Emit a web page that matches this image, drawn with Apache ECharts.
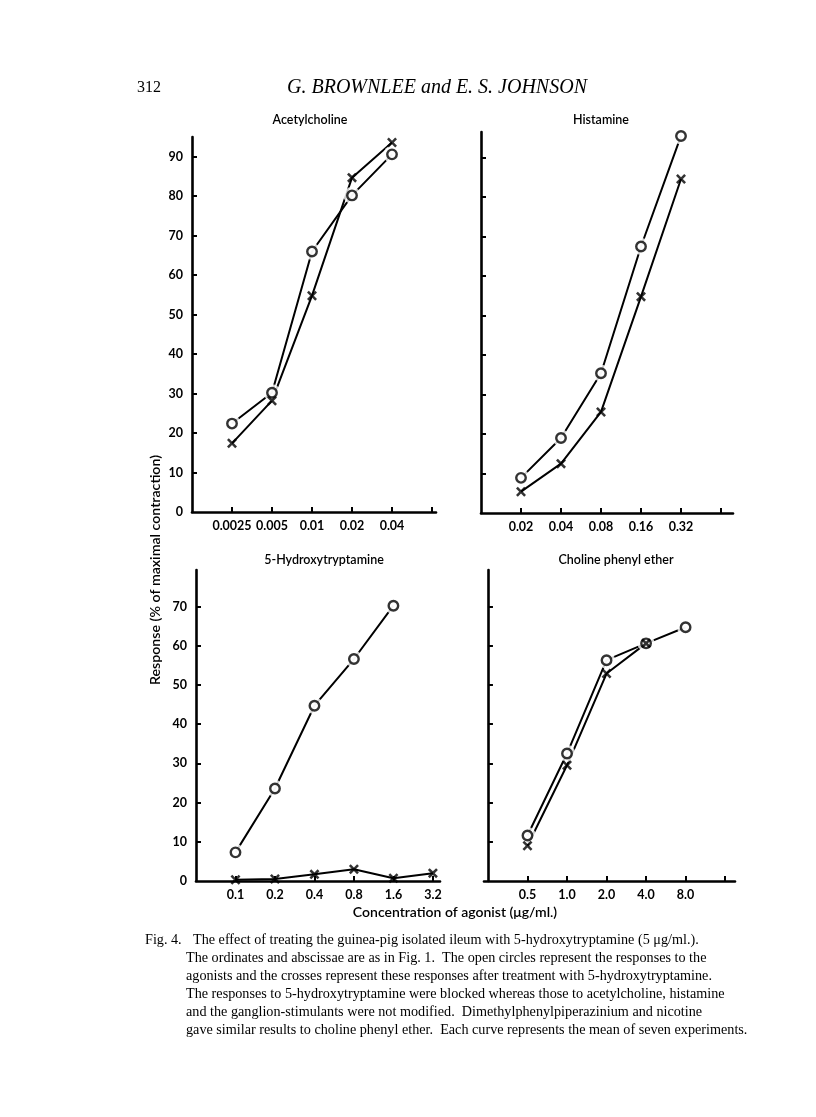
<!DOCTYPE html>
<html>
<head>
<meta charset="utf-8">
<script src="https://cdn.jsdelivr.net/npm/echarts@6/dist/echarts.min.js"></script>
<style>
html,body{margin:0;padding:0;background:#fff;}
#chart{width:816px;height:1117px;}
</style>
</head>
<body>
<div id="chart"></div>
<script>
// ---- data ----
const acLabels = ['0.0025', '0.005', '0.01', '0.02', '0.04'];
const acCircle = [22.4, 30.2, 66, 80.2, 90.6];
const acCross = [17.4, 28.2, 54.8, 84.7, 93.6];

const hiLabels = ['0.02', '0.04', '0.08', '0.16', '0.32'];
const hiCircle = [8.9, 19, 35.4, 67.5, 95.5];
const hiCross = [5.4, 12.5, 25.6, 54.8, 84.6];

const htLabels = ['0.1', '0.2', '0.4', '0.8', '1.6', '3.2'];
const htCircle = [7.3, 23.6, 44.7, 56.6, 70.2];
const htCross = [0.3, 0.5, 1.7, 3.0, 0.7, 2.0];

const cpLabels = ['0.5', '1.0', '2.0', '4.0', '8.0'];
const cpCircle = [11.6, 32.5, 56.3, 60.6, 64.7];
const cpCross = [9.0, 29.5, 52.9, 60.6];

const topYTicks = [0, 10, 20, 30, 40, 50, 60, 70, 80, 90];
const botYTicks = [0, 10, 20, 30, 40, 50, 60, 70];
const xTickPos = [1, 2, 3, 4, 5, 6];

const panelTitles = ['Acetylcholine', 'Histamine', '5-Hydroxytryptamine', 'Choline phenyl ether'];
const captionLines = [
  'The effect of treating the guinea-pig isolated ileum with 5-hydroxytryptamine (5 μg/ml.).',
  'The ordinates and abscissae are as in Fig. 1.  The open circles represent the responses to the',
  'agonists and the crosses represent these responses after treatment with 5-hydroxytryptamine.',
  'The responses to 5-hydroxytryptamine were blocked whereas those to acetylcholine, histamine',
  'and the ganglion-stimulants were not modified.  Dimethylphenylpiperazinium and nicotine',
  'gave similar results to choline phenyl ether.  Each curve represents the mean of seven experiments.'
];

// ---- helpers ----
const sansFont = 'Lato';
const crossPath = 'path://M0,1.8L1.8,0L5,3.2L8.2,0L10,1.8L6.8,5L10,8.2L8.2,10L5,6.8L1.8,10L0,8.2L3.2,5Z';
const toXY = arr => arr.map((v, i) => [i + 1, v]);

const panels = [
  {grid: {left: 192, top: 137, width: 244, height: 375}, xmin: 0, xmax: 6.1, ymax: 95, labels: acLabels, yLabels: topYTicks, showY: true, yTicks: [10,20,30,40,50,60,70,80,90], circle: acCircle, cross: acCross},
  {grid: {left: 481, top: 132, width: 252, height: 381}, xmin: 0, xmax: 6.3, ymax: 96.5, labels: hiLabels, yLabels: topYTicks, showY: false, yTicks: [10,20,30,40,50,60,70,80,90], circle: hiCircle, cross: hiCross},
  {grid: {left: 196, top: 570, width: 244, height: 311}, xmin: 0, xmax: 6.18, ymax: 79.3, labels: htLabels, yLabels: botYTicks, showY: true, yTicks: [10,20,30,40,50,60,70], circle: htCircle, cross: htCross},
  {grid: {left: 484, top: 570, width: 251, height: 311}, xmin: -0.1, xmax: 6.25, ymax: 79.3, labels: cpLabels, yLabels: botYTicks, showY: false, yTicks: [10,20,30,40,50,60,70], circle: cpCircle, cross: cpCross}
];

const grids = [], xAxes = [], yAxes = [], series = [];
panels.forEach((p, i) => {
  grids.push(p.grid);
  xAxes.push({
    type: 'value', gridIndex: i, min: p.xmin, max: p.xmax,
    splitLine: {show: false},
    axisLine: {show: true, lineStyle: {color: '#000', width: 2.6}},
    axisTick: {show: true, inside: true, length: 5, customValues: xTickPos, lineStyle: {color: '#000', width: 2}},
    axisLabel: {show: true, customValues: p.labels.map((_, k) => k + 1), formatter: v => p.labels[Math.round(v) - 1] || '',
      color: '#000', fontFamily: sansFont, fontWeight: 'bold', fontSize: 12.5, margin: 7}
  });
  yAxes.push({
    type: 'value', gridIndex: i, min: 0, max: p.ymax,
    splitLine: {show: false},
    axisLine: {show: true, lineStyle: {color: '#000', width: 2.6}},
    axisTick: {show: true, inside: true, length: 5, customValues: p.yTicks, lineStyle: {color: '#000', width: 2}},
    axisLabel: {show: p.showY, customValues: p.yLabels, color: '#000', fontFamily: sansFont, fontWeight: 'bold', fontSize: 12.5, margin: 9}
  });
  const c = toXY(p.circle), x = toXY(p.cross);
  [c, x].forEach(d => series.push({
    type: 'line', xAxisIndex: i, yAxisIndex: i, data: d, showSymbol: false, silent: true,
    lineStyle: {color: '#000', width: 2}, z: 2, animation: false
  }));
  series.push({type: 'scatter', xAxisIndex: i, yAxisIndex: i, data: c, symbol: 'circle', symbolSize: 17,
    itemStyle: {color: '#fff'}, z: 3, silent: true, animation: false});
  series.push({type: 'scatter', xAxisIndex: i, yAxisIndex: i, data: c, symbol: 'circle', symbolSize: 9.5,
    itemStyle: {color: '#fff', borderColor: '#000', borderWidth: 2.4}, z: 4, silent: true, animation: false});
  series.push({type: 'scatter', xAxisIndex: i, yAxisIndex: i, data: x, symbol: crossPath, symbolSize: 10,
    itemStyle: {color: '#000'}, z: 5, silent: true, animation: false});
});

const titlePos = [[310, 120], [601, 120], [324, 560], [616, 560]];
const graphics = [];
panelTitles.forEach((t, i) => graphics.push({type: 'text', x: titlePos[i][0], y: titlePos[i][1],
  style: {text: t, fill: '#000', font: '600 12.5px ' + sansFont, textAlign: 'center', textVerticalAlign: 'middle'}}));
graphics.push({type: 'text', x: 137, y: 88, style: {text: '312', fill: '#000', font: '16px "Liberation Serif"', textAlign: 'left', textVerticalAlign: 'middle'}});
graphics.push({type: 'text', x: 437, y: 88, style: {text: 'G. BROWNLEE and E. S. JOHNSON', fill: '#000', font: 'italic 20px "Liberation Serif"', textAlign: 'center', textVerticalAlign: 'middle'}});
graphics.push({type: 'text', x: 155, y: 570, rotation: Math.PI / 2,
  style: {text: 'Response (% of maximal contraction)', fill: '#000', font: '600 14.2px ' + sansFont, textAlign: 'center', textVerticalAlign: 'middle'}});
graphics.push({type: 'text', x: 455, y: 912,
  style: {text: 'Concentration of agonist (μg/ml.)', fill: '#000', font: '600 14px ' + sansFont, textAlign: 'center', textVerticalAlign: 'middle'}});
graphics.push({type: 'text', x: 145, y: 940, style: {text: 'Fig. 4.', fill: '#000', font: '14.2px "Liberation Serif"', textAlign: 'left', textVerticalAlign: 'middle'}});
captionLines.forEach((t, i) => graphics.push({type: 'text', x: i === 0 ? 193 : 186, y: 940 + i * 18,
  style: {text: t, fill: '#000', font: '14.2px "Liberation Serif"', textAlign: 'left', textVerticalAlign: 'middle'}}));

const chart = echarts.init(document.getElementById('chart'), null, {renderer: 'canvas'});
chart.setOption({
  backgroundColor: '#fff',
  animation: false,
  grid: grids, xAxis: xAxes, yAxis: yAxes, series: series, graphic: graphics
});
</script>
</body>
</html>
